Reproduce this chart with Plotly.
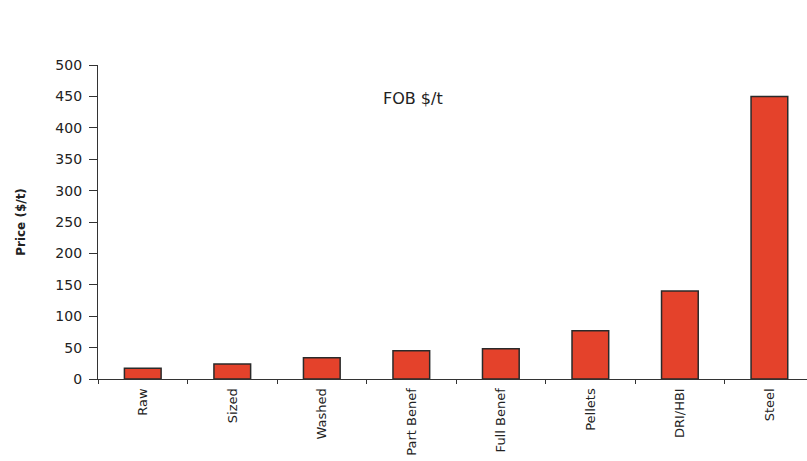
import plotly.graph_objects as go

categories = ["Raw", "Sized", "Washed", "Part Benef", "Full Benef", "Pellets", "DRI/HBI", "Steel"]
prices = [17, 24, 34, 45, 48, 77, 140, 450]
y_ticks = [0, 50, 100, 150, 200, 250, 300, 350, 400, 450, 500]

fig = go.Figure()
fig.add_trace(go.Bar(
    x=categories, y=prices, width=0.41,
    marker=dict(color="#E4422B", line=dict(color="#2a2a2a", width=1.5)),
))

fig.update_layout(
    width=807, height=461,
    margin=dict(l=98, r=0, t=65, b=82),
    paper_bgcolor="white", plot_bgcolor="white",
    showlegend=False,
    font=dict(family="DejaVu Sans, sans-serif", color="#222", size=13),
    annotations=[dict(text="FOB $/t", x=0.444, y=0.93, xref="paper", yref="paper",
                      showarrow=False, font=dict(size=16, color="#222"))],
)
fig.update_xaxes(
    type="category", range=[-0.5, 7.42],
    showline=True, linecolor="#333", linewidth=1.2,
    ticks="outside", tickson="boundaries", ticklen=4, tickcolor="#333",
    tickangle=-90, showgrid=False, zeroline=False,
    tickfont=dict(size=13), ticklabelstandoff=3,
)
fig.update_yaxes(
    range=[0, 500], tickvals=y_ticks,
    showline=True, linecolor="#333", linewidth=1.2,
    ticks="outside", ticklen=8, tickcolor="#333",
    showgrid=False, zeroline=False,
    tickfont=dict(size=14), ticklabelstandoff=4,
    title=dict(text="<b>Price ($/t)</b>", font=dict(size=12), standoff=27),
)
fig.write_html("out.html")
